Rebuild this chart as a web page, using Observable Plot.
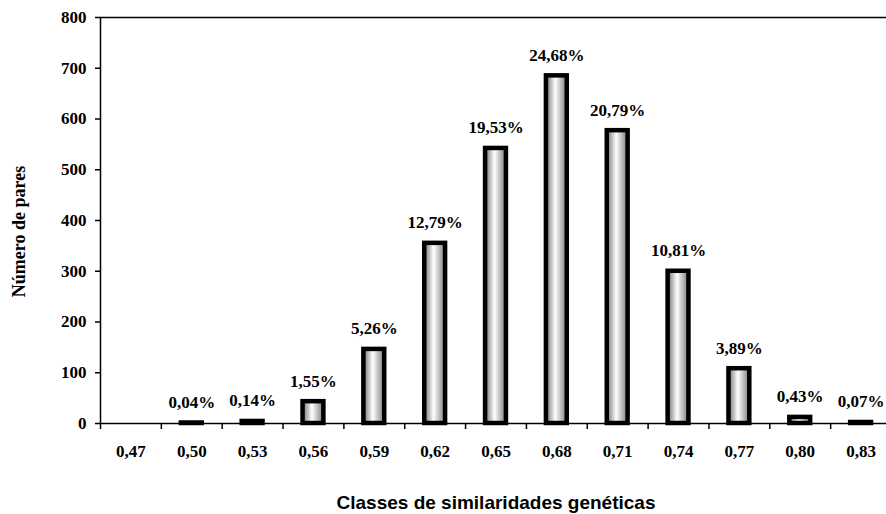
<!DOCTYPE html>
<html><head><meta charset="utf-8">
<script src="https://cdn.jsdelivr.net/npm/d3@7"></script>
<script src="https://cdn.jsdelivr.net/npm/@observablehq/plot@0.6"></script>
<style>html,body{margin:0;padding:0;background:#fff}</style>
</head><body><div id="chart"></div>
<script>
const classes = ["0,47","0,50","0,53","0,56","0,59","0,62","0,65","0,68","0,71","0,74","0,77","0,80","0,83"];
const pairs = [0, 1, 4, 43, 146, 355, 542, 685, 577, 300, 108, 12, 2];
const percents = [null, "0,04%", "0,14%", "1,55%", "5,26%", "12,79%", "19,53%", "24,68%", "20,79%", "10,81%", "3,89%", "0,43%", "0,07%"];
const yTicks = [0, 100, 200, 300, 400, 500, 600, 700, 800];
const xTitle = "Classes de similaridades genéticas";
const yTitle = "Número de pares";

const W = 886, H = 514, mL = 100, mR = -5, mT = 17, mB = 91;
const step = (W - mL - mR) / classes.length;
const data = classes.map((c, i) => ({cls: c, n: pairs[i], pct: percents[i]})).filter(d => d.n > 0);

const defs = () => {
  const g = d3.create("svg:g");
  const grad = g.append("defs").append("linearGradient")
    .attr("id", "barGrad").attr("x1", "0").attr("x2", "1").attr("y1", "0").attr("y2", "0");
  grad.append("stop").attr("offset", "0").attr("stop-color", "#6e6e6e");
  grad.append("stop").attr("offset", "0.45").attr("stop-color", "#ffffff");
  grad.append("stop").attr("offset", "1").attr("stop-color", "#7a7a7a");
  return g.node();
};

const chart = Plot.plot({
  width: W, height: H,
  marginLeft: mL, marginRight: mR, marginTop: mT, marginBottom: mB,
  style: {fontFamily: "Liberation Serif", fontSize: "17px", fontWeight: "bold", color: "black", background: "white", overflow: "hidden"},
  x: {type: "band", domain: classes, padding: 0, round: false, label: null},
  y: {domain: [0, 800], label: null},
  marks: [
    defs,
    Plot.frame({stroke: "black", strokeWidth: 1.5}),
    Plot.axisY({ticks: yTicks, tickSize: 5, tickPadding: 9, label: null, strokeWidth: 1.5}),
    Plot.axisX({tickSize: 6, tickFormat: () => "", dx: -step / 2, label: null, strokeWidth: 1.5}),
    Plot.axisX({tickSize: 0, tickPadding: 21, label: null}),
    Plot.barY(data, {x: "cls", y: "n", fill: "url(#barGrad)", stroke: "black", strokeWidth: 4.5, insetLeft: 20, insetRight: 20}),
    Plot.text(data, {x: "cls", y: "n", text: "pct", lineAnchor: "bottom", dy: -15}),
    Plot.text([yTitle], {frameAnchor: "left", textAnchor: "middle", lineAnchor: "middle", rotate: -90, dx: -81, dy: 11, fontSize: 18}),
    Plot.text([xTitle], {frameAnchor: "bottom", textAnchor: "middle", lineAnchor: "middle", dy: 79, fontFamily: "Liberation Sans", fontSize: 19})
  ]
});
document.getElementById("chart").appendChild(chart);
</script>
</body></html>
